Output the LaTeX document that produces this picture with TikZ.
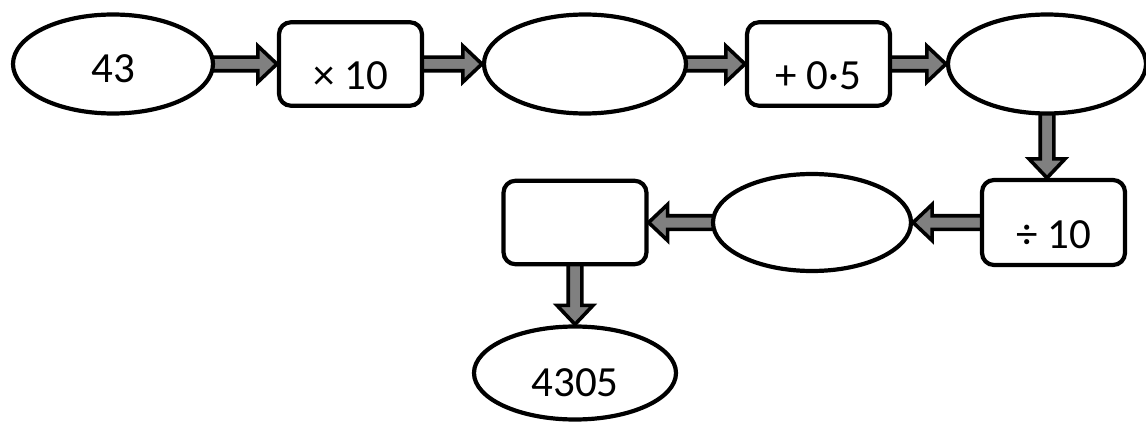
\documentclass[tikz,border=0pt]{standalone}
\usepackage{fontspec}
\setmainfont{Carlito}
\usetikzlibrary{calc,backgrounds,shapes.geometric}
\definecolor{arrowgray}{HTML}{808080}
\tikzset{
  txt/.style={font=\fontsize{43}{51}\selectfont},
  oval/.style={ellipse, draw, line width=4.2pt, fill=white, inner sep=0pt, txt},
  rbox/.style={rectangle, rounded corners=12pt, draw, line width=4.2pt, fill=white, inner sep=0pt,
               minimum width=143pt, minimum height=83.5pt, text height=51pt, text depth=0pt, txt},
  blockarrow/.style={draw=black, fill=arrowgray, line width=3.6pt, line join=miter},
}
\newcommand{\barrow}[2]{%
  \coordinate (ba) at (#1); \coordinate (bt) at (#2);
  \coordinate (bs) at ($(ba)!-6pt!(bt)$);
  \coordinate (bh) at ($(bt)!19pt!(bs)$);
  \draw[blockarrow] ($(bs)!6.8pt!90:(bt)$) -- ($(bh)!6.8pt!90:(bt)$) -- ($(bh)!18pt!90:(bt)$) -- (bt)
     -- ($(bh)!18pt!-90:(bt)$) -- ($(bh)!6.8pt!-90:(bt)$) -- ($(bs)!6.8pt!-90:(bt)$) -- cycle;
}
\begin{document}
\begin{tikzpicture}[x=1pt,y=-1pt]
\useasboundingbox (0,0) rectangle (1146,425);
\node[oval, minimum width=200pt, minimum height=99pt, text height=37pt, text depth=0pt] (e1) at (113,64) {43};
\node[rbox] (b1) at (350.5,64) {× 10};
\node[oval, minimum width=202pt, minimum height=99pt] (e2) at (585,64) {};
\node[rbox] (b2) at (818.5,64) {+ 0·5};
\node[oval, minimum width=198pt, minimum height=99pt] (e3) at (1047,64) {};
\node[rbox, minimum height=85pt] (b3) at (1053.5,222.5) {÷ 10};
\node[oval, minimum width=198pt, minimum height=97pt] (e4) at (812,222.5) {};
\node[rbox] (b4) at (575,222.5) {};
\node[oval, minimum width=202pt, minimum height=93pt, text height=47pt, text depth=0pt] (e5) at (575,373) {4305};
\begin{scope}[on background layer]
\fill[white] (0,0) rectangle (1146,425);
\barrow{e1.east}{b1.west}
\barrow{b1.east}{e2.west}
\barrow{e2.east}{b2.west}
\barrow{b2.east}{e3.west}
\barrow{e3.south}{e3.south |- b3.north}
\barrow{b3.west}{b3.west -| e4.east}
\barrow{e4.west}{b4.east}
\barrow{b4.south}{b4.south |- e5.north}
\end{scope}
\end{tikzpicture}
\end{document}
